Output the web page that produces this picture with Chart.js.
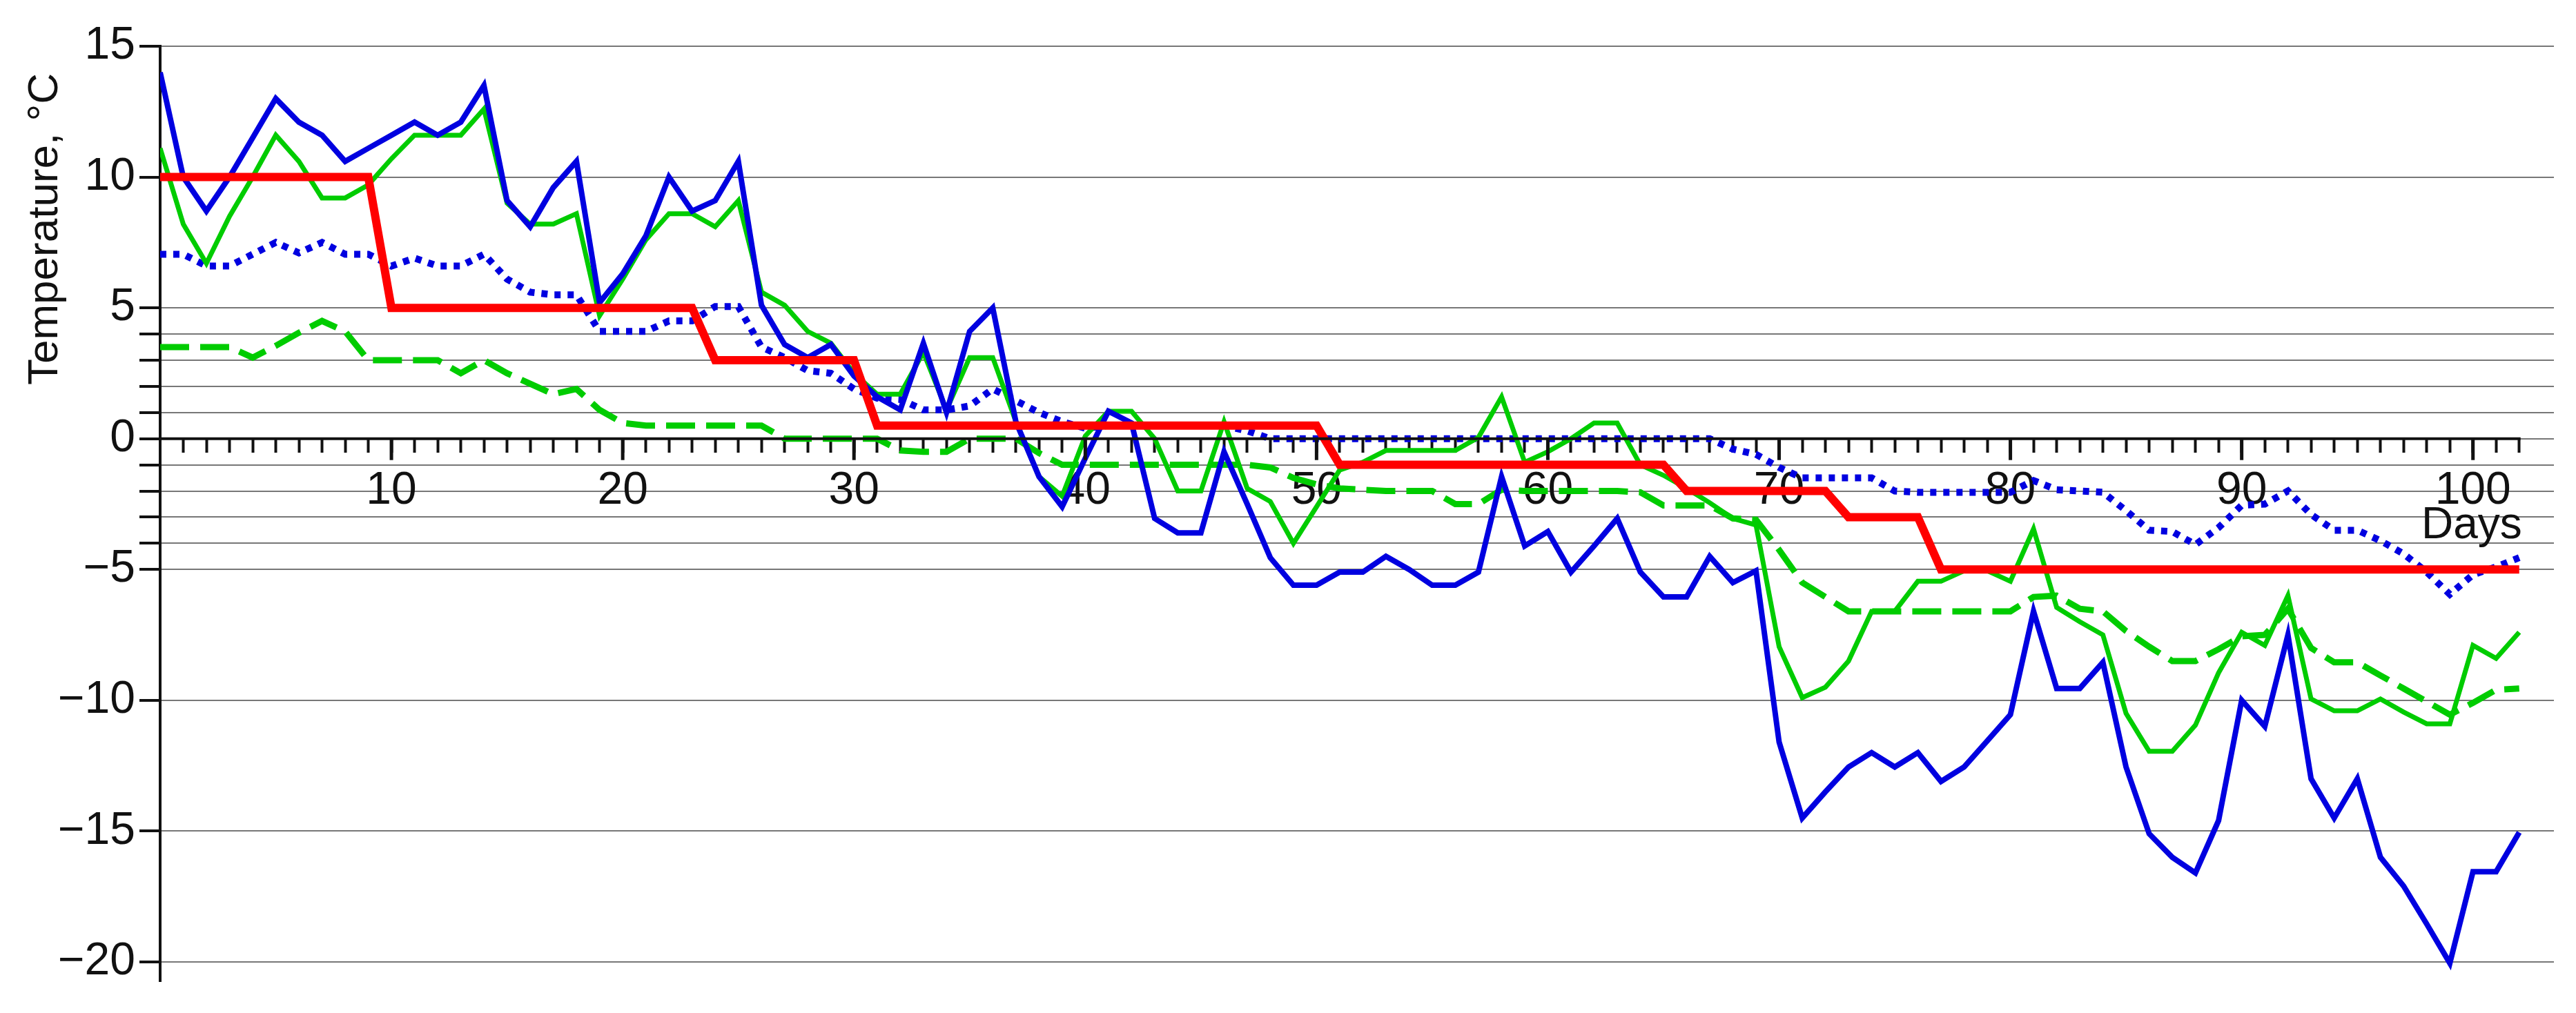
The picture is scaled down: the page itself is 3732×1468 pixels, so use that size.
<!DOCTYPE html>
<html>
<head>
<meta charset="utf-8">
<script src="https://cdn.jsdelivr.net/npm/chart.js@4"></script>
<style>
  html, body { margin: 0; padding: 0; background: #fff; }
  #wrap { width: 3732px; height: 1468px; }
</style>
</head>
<body>
<div id="wrap"><canvas id="tempChart"></canvas></div>
<script>
// daily values, day 0 .. 102
var airMin = [14.0,10.0,8.7,10.0,11.5,13.0,12.1,11.6,10.6,11.1,
  11.6,12.1,11.6,12.1,13.5,9.1,8.1,9.6,10.6,5.2,
  6.3,7.75,10.0,8.7,9.1,10.6,5.1,3.6,3.1,3.6,
  2.4,1.6,1.1,3.65,1.0,4.1,5.0,0.65,-1.45,-2.6,
  -0.75,1.05,0.6,-3.05,-3.6,-3.6,-0.5,-2.5,-4.55,-5.6,
  -5.6,-5.1,-5.1,-4.5,-5.0,-5.6,-5.6,-5.1,-1.45,-4.1,
  -3.55,-5.1,-4.1,-3.05,-5.1,-6.05,-6.05,-4.5,-5.5,-5.05,
  -11.6,-14.5,-13.5,-12.55,-12.0,-12.55,-12.0,-13.1,-12.55,-11.55,
  -10.55,-6.6,-9.55,-9.55,-8.55,-12.55,-15.1,-16.0,-16.6,-14.6,
  -10.0,-11.0,-7.5,-13.0,-14.5,-13.0,-16.0,-17.1,-18.55,-20.05,
  -16.55,-16.55,-15.05];

var surfaceMin = [11.1,8.2,6.7,8.5,10.0,11.6,10.6,9.2,9.2,9.7,
  10.7,11.6,11.6,11.6,12.6,9.0,8.2,8.2,8.6,4.7,
  6.1,7.6,8.6,8.6,8.1,9.1,5.6,5.1,4.1,3.65,
  2.5,1.7,1.7,3.3,1.1,3.1,3.1,0.65,-1.45,-2.2,
  0.1,1.05,1.05,0,-2.0,-2.0,0.65,-1.9,-2.4,-4.0,
  -2.6,-1.2,-0.9,-0.45,-0.45,-0.45,-0.45,0.05,1.6,-0.9,
  -0.5,0,0.6,0.6,-1.0,-1.4,-1.9,-2.45,-3.05,-3.3,
  -7.95,-9.9,-9.5,-8.5,-6.6,-6.6,-5.45,-5.45,-5.05,-5.05,
  -5.45,-3.45,-6.45,-7.0,-7.5,-10.5,-11.95,-11.95,-10.95,-8.95,
  -7.4,-7.9,-6.0,-9.95,-10.4,-10.4,-9.95,-10.45,-10.9,-10.9,
  -7.9,-8.4,-7.4];

var airMean = [7.05,7.05,6.6,6.6,7.05,7.5,7.1,7.5,7.05,7.05,
  6.6,6.9,6.6,6.6,7.05,6.1,5.6,5.5,5.5,4.1,
  4.1,4.1,4.5,4.5,5.05,5.05,3.5,3.1,2.6,2.5,
  1.9,1.55,1.5,1.1,1.1,1.25,1.9,1.45,1.0,0.65,
  0.4,0.5,0.5,0.5,0.5,0.5,0.5,0.3,0,0,
  0,0,0,0,0,0,0,0,0,0,
  0,0,0,0,0,0,0,0,-0.4,-0.6,
  -1.1,-1.5,-1.5,-1.5,-1.5,-2.0,-2.05,-2.05,-2.05,-2.05,
  -2.05,-1.6,-1.95,-2.0,-2.05,-2.75,-3.5,-3.55,-4.05,-3.4,
  -2.55,-2.5,-2.0,-2.9,-3.5,-3.5,-3.9,-4.4,-5.1,-5.95,
  -5.2,-4.9,-4.55];

var soilTemp = [3.5,3.5,3.5,3.5,3.1,3.55,4.05,4.5,4.1,3.0,
  3.0,3.0,3.0,2.5,3.0,2.5,2.1,1.7,1.9,1.1,
  0.6,0.5,0.5,0.5,0.5,0.5,0.5,0,0,0,
  0,0,-0.45,-0.5,-0.5,0,0,0,-0.55,-1.0,
  -1,-1,-1,-1,-1,-1,-1,-1,-1.1,-1.5,
  -1.75,-1.9,-1.95,-2.0,-2.0,-2.0,-2.5,-2.5,-1.95,-2.0,
  -2.0,-2.0,-2.0,-2.0,-2.05,-2.55,-2.55,-2.55,-3.05,-3.1,
  -4.25,-5.5,-6.05,-6.6,-6.6,-6.6,-6.6,-6.6,-6.6,-6.6,
  -6.6,-6.05,-6.0,-6.5,-6.6,-7.35,-7.95,-8.5,-8.5,-8.05,
  -7.55,-7.5,-6.5,-8.0,-8.55,-8.55,-9.05,-9.55,-10.05,-10.55,
  -10.1,-9.6,-9.55];

var setPoint = [10,10,10,10,10,10,10,10,10,10,
  5,5,5,5,5,5,5,5,5,5,
  5,5,5,5,3,3,3,3,3,3,
  3,0.5,0.5,0.5,0.5,0.5,0.5,0.5,0.5,0.5,
  0.5,0.5,0.5,0.5,0.5,0.5,0.5,0.5,0.5,0.5,
  0.5,-1,-1,-1,-1,-1,-1,-1,-1,-1,
  -1,-1,-1,-1,-1,-1,-2,-2,-2,-2,
  -2,-2,-2,-3,-3,-3,-3,-5,-5,-5,
  -5,-5,-5,-5,-5,-5,-5,-5,-5,-5,
  -5,-5,-5,-5,-5,-5,-5,-5,-5,-5,
  -5,-5,-5];

var yTickValues = [15, 10, 5, 4, 3, 2, 1, 0, -1, -2, -3, -4, -5, -10, -15, -20];
var lastDay = 102;

function pts(arr) {
  return arr.map(function(v, i) { return { x: i, y: v }; });
}

var FONT = "'Liberation Sans', Arial, sans-serif";

var extras = {
  id: 'extras',
  afterDraw: function(chart) {
    var ctx = chart.ctx;
    var xs = chart.scales.x, ys = chart.scales.y;
    var y0 = ys.getPixelForValue(0);
    ctx.save();
    ctx.strokeStyle = '#111';
    ctx.lineWidth = 4;
    ctx.beginPath();
    ctx.moveTo(xs.getPixelForValue(0), y0);
    ctx.lineTo(xs.getPixelForValue(lastDay) + 2, y0);
    ctx.stroke();
    // longer ticks every 10 days
    ctx.lineWidth = 5;
    for (var d = 10; d <= lastDay; d += 10) {
      var px = xs.getPixelForValue(d);
      ctx.beginPath();
      ctx.moveTo(px, y0);
      ctx.lineTo(px, y0 + 31);
      ctx.stroke();
    }
    ctx.fillStyle = '#111';
    ctx.font = '64px ' + FONT;
    ctx.textAlign = 'right';
    ctx.textBaseline = 'middle';
    ctx.fillText('Days', xs.getPixelForValue(lastDay) + 4, 762);
    ctx.translate(66, 332);
    ctx.rotate(-Math.PI / 2);
    ctx.textAlign = 'center';
    ctx.font = '62px ' + FONT;
    ctx.fillText('Temperature, °C', 0, 0);
    ctx.restore();
  }
};

new Chart(document.getElementById('tempChart'), {
  type: 'line',
  data: {
    datasets: [
      { data: pts(setPoint), borderColor: '#ff0000', borderWidth: 12 },
      { data: pts(airMin), borderColor: '#0000e0', borderWidth: 8 },
      { data: pts(surfaceMin), borderColor: '#00cc00', borderWidth: 7 },
      { data: pts(airMean), borderColor: '#0000e0', borderWidth: 10, borderDash: [9, 10] },
      { data: pts(soilTemp), borderColor: '#00cc00', borderWidth: 9, borderDash: [42, 16] }
    ]
  },
  options: {
    responsive: true,
    maintainAspectRatio: false,
    animation: false,
    devicePixelRatio: 1,
    elements: { point: { radius: 0 }, line: { tension: 0, borderCapStyle: 'butt', borderJoinStyle: 'miter' } },
    layout: { padding: { top: 67, bottom: 40, right: 32, left: 0 } },
    plugins: { legend: { display: false }, tooltip: { enabled: false } },
    scales: {
      x: {
        type: 'linear',
        position: { y: 0 },
        min: 0,
        max: 103.5,
        afterBuildTicks: function(scale) {
          var t = [];
          for (var d = 1; d <= lastDay; d++) t.push({ value: d });
          scale.ticks = t;
        },
        ticks: {
          autoSkip: false,
          maxRotation: 0,
          padding: 16,
          color: '#111',
          font: { family: FONT, size: 66 },
          callback: function(v) { return v % 10 === 0 ? String(v) : ''; }
        },
        grid: { drawOnChartArea: false, tickLength: 20, tickColor: '#111', tickWidth: 4 },
        border: { display: false }
      },
      y: {
        min: -20.75,
        max: 15,
        afterFit: function(scale) { scale.width = 232; },
        afterBuildTicks: function(scale) {
          scale.ticks = yTickValues.map(function(v) { return { value: v }; });
        },
        ticks: {
          autoSkip: false,
          padding: 6,
          color: '#111',
          font: { family: FONT, size: 66 },
          callback: function(v) {
            if (v % 5 !== 0) return '';
            return v < 0 ? '\u2212' + Math.abs(v) : String(v);
          }
        },
        grid: {
          color: '#777',
          lineWidth: 2,
          tickColor: '#111',
          tickWidth: 4,
          tickLength: 30,
          drawTicks: true
        },
        border: { display: true, color: '#111', width: 4, dash: [] }
      }
    }
  },
  plugins: [extras, {
    id: 'dottedGrid',
    beforeDraw: function(chart) { chart.options.scales.y.grid.borderDash = [3, 3]; }
  }]
});
</script>
</body>
</html>
